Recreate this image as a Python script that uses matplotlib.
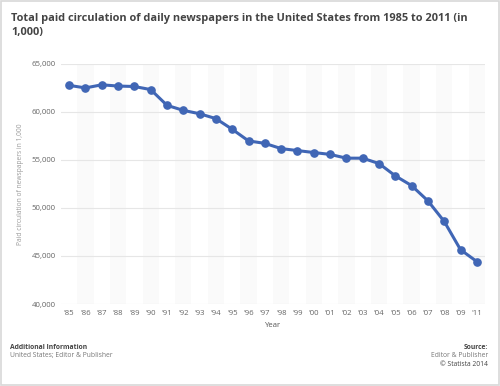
import matplotlib.pyplot as plt
from matplotlib.patches import Rectangle
import numpy as np

plt.rcParams['font.family'] = ['Open Sans', 'DejaVu Sans']

# data
years = ["'85", "'86", "'87", "'88", "'89", "'90", "'91", "'92", "'93", "'94", "'95", "'96", "'97",
         "'98", "'99", "'00", "'01", "'02", "'03", "'04", "'05", "'06", "'07", "'08", "'09", "'11"]
circulation = [62766, 62502, 62826, 62695, 62649, 62328, 60687, 60164, 59812, 59305, 58193, 56983, 56728,
               56182, 55979, 55773, 55578, 55186, 55185, 54626, 53345, 52329, 50742, 48597, 45653, 44421]
yticks = [40000, 45000, 50000, 55000, 60000, 65000]

fig = plt.figure(figsize=(5, 3.86), dpi=100)
fig.patches.append(Rectangle((0.002, 0.003), 0.996, 0.994, transform=fig.transFigure,
                             fill=False, edgecolor='#d8d8d8', linewidth=1.2))

ax = fig.add_axes([0.122, 0.2124, 0.848, 0.622])
x = np.arange(len(years))

# alternating bands
for i in x:
    if i % 2 == 1:
        ax.axvspan(i - 0.5, i + 0.5, color='#fafafa', zorder=0, lw=0)

for t in yticks:
    ax.axhline(t, color='#e6e6e6', lw=0.8, zorder=1)

ax.plot(x, circulation, color='#4066b5', lw=2.2, marker='o', ms=5.2, zorder=3)

ax.set_xlim(-0.5, len(years) - 0.5)
ax.set_ylim(40000, 65000)
ax.set_xticks(x)
ax.set_xticklabels(years)
ax.set_yticks(yticks)
ax.set_yticklabels([f'{t:,}' for t in yticks])
ax.tick_params(length=0, labelsize=5.6, colors='#666666', pad=4)
ax.tick_params(axis='y', pad=4)
for s in ax.spines.values():
    s.set_visible(False)

ax.set_xlabel('Year', fontsize=5.6, color='#555555', labelpad=4)
ax.set_ylabel('Paid circulation of newspapers in 1,000', fontsize=4.8, color='#999999')
ax.yaxis.set_label_coords(-0.087, 0.5)

fig.text(0.022, 0.966, 'Total paid circulation of daily newspapers in the United States from 1985 to 2011 (in\n1,000)',
         fontsize=7.9, fontweight='bold', color='#444444', va='top', linespacing=1.3)

fig.text(0.02, 0.101, 'Additional Information', fontsize=4.9, fontweight='bold', color='#444444', va='center')
fig.text(0.02, 0.078, 'United States; Editor & Publisher', fontsize=4.9, color='#777777', va='center')
fig.text(0.976, 0.101, 'Source:', fontsize=4.9, fontweight='bold', color='#444444', va='center', ha='right')
fig.text(0.976, 0.078, 'Editor & Publisher', fontsize=4.9, color='#777777', va='center', ha='right')
fig.text(0.976, 0.055, '© Statista 2014', fontsize=4.9, color='#444444', va='center', ha='right')

fig.savefig('out.png', dpi=100)
